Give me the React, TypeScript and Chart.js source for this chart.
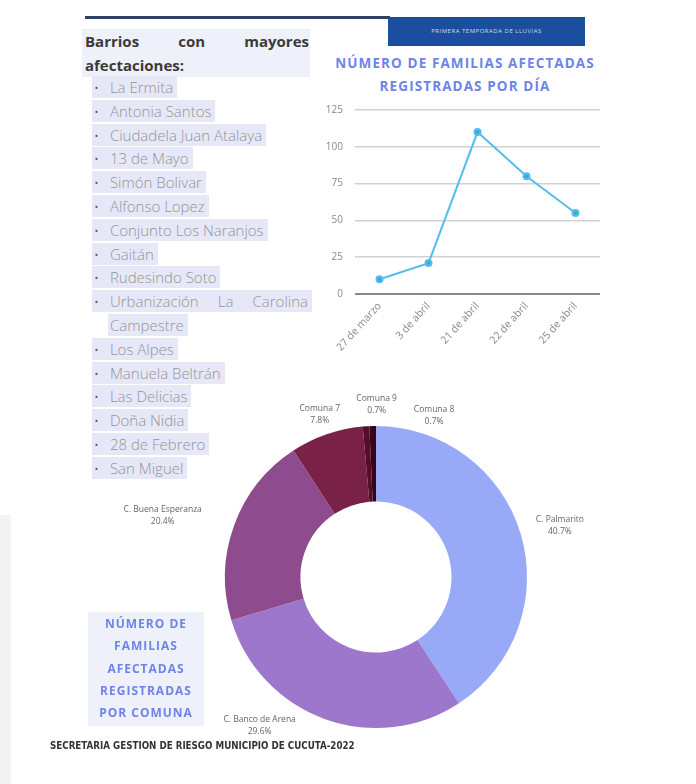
import React, { useEffect, useRef } from "react";
import { Chart, registerables } from "chart.js";

Chart.register(...registerables);

// ---- data ----
const barrios = [
  "La Ermita",
  "Antonia Santos",
  "Ciudadela Juan Atalaya",
  "13 de Mayo",
  "Simón Bolivar",
  "Alfonso Lopez",
  "Conjunto Los Naranjos",
  "Gaitán",
  "Rudesindo Soto",
  "Urbanización La Carolina|Campestre",
  "Los Alpes",
  "Manuela Beltrán",
  "Las Delicias",
  "Doña Nidia",
  "28 de Febrero",
  "San Miguel",
];

const dias = ["27 de marzo", "3 de abril", "21 de abril", "22 de abril", "25 de abril"];
const familiasPorDia = [10, 21, 110, 80, 55];
const yTicks = [0, 25, 50, 75, 100, 125];

const comunas = [
  "C. Palmarito",
  "C. Banco de Arena",
  "C. Buena Esperanza",
  "Comuna 7",
  "Comuna 9",
  "Comuna 8",
];
const porcentajeComuna = [40.7, 29.6, 20.4, 7.8, 0.7, 0.7];
const colorComuna = ["#98AAF7", "#9C77CB", "#8E4B8D", "#7A2147", "#560D2A", "#360516"];

// label nudges (degrees) and radial distance for the doughnut labels
const labelAngleNudge = [1, 18, -4, 0, 4, 21];
const labelRadius = [191, 189, 222, 172, 172, 172];

const BLUE_TITLE = "#6E84E6";
const HILITE = "#E6E8F8";

const doughnutLabels = {
  id: "doughnutLabels",
  afterDatasetsDraw(chart: any) {
    const ctx = chart.ctx;
    const meta = chart.getDatasetMeta(0);
    ctx.save();
    ctx.font = "8.5px 'Open Sans'";
    ctx.fillStyle = "#666";
    ctx.textAlign = "center";
    ctx.textBaseline = "middle";
    meta.data.forEach((arc: any, i: number) => {
      const p = arc.getProps(["x", "y", "startAngle", "endAngle"], true);
      const mid = (p.startAngle + p.endAngle) / 2 + (labelAngleNudge[i] * Math.PI) / 180;
      const r = labelRadius[i];
      const x = p.x + Math.cos(mid) * r;
      const y = p.y + Math.sin(mid) * r;
      ctx.fillText(comunas[i], x, y - 6);
      ctx.fillText(porcentajeComuna[i].toFixed(1) + "%", x, y + 6);
    });
    ctx.restore();
  },
};

function LineChart() {
  const ref = useRef<HTMLCanvasElement>(null);
  useEffect(() => {
    const chart = new Chart(ref.current!, {
      type: "line",
      data: {
        labels: dias,
        datasets: [
          {
            data: familiasPorDia,
            borderColor: "#55BDEB",
            backgroundColor: "#3AA9DA",
            borderWidth: 2,
            pointRadius: 3,
            pointBorderColor: "#55BDEB",
            pointBackgroundColor: "#3AA9DA",
            tension: 0,
          },
        ],
      },
      options: {
        animation: false,
        responsive: false,
        layout: { padding: { top: 11, right: 8, left: 0, bottom: 0 } },
        plugins: { legend: { display: false }, tooltip: { enabled: false } },
        scales: {
          x: {
            offset: true,
            grid: { display: false, drawTicks: false },
            border: { display: false },
            ticks: {
              color: "#888",
              font: { family: "'Open Sans'", size: 10.5 },
              minRotation: 48,
              maxRotation: 48,
              padding: 6,
            },
            afterFit: (s: any) => {
              s.height = 70;
            },
          },
          y: {
            min: 0,
            max: 125,
            afterBuildTicks: (s: any) => {
              s.ticks = yTicks.map((v) => ({ value: v }));
            },
            grid: {
              color: (c: any) => (c.tick && c.tick.value === 0 ? "#8a8a8a" : "#d2d2d2"),
              lineWidth: (c: any) => (c.tick && c.tick.value === 0 ? 2 : 1.5),
              drawTicks: false,
            },
            border: { display: false },
            ticks: {
              color: "#888",
              font: { family: "'Open Sans'", size: 10 },
              padding: 12,
            },
            afterFit: (s: any) => {
              s.width = 37;
            },
          },
        },
      },
    });
    return () => chart.destroy();
  }, []);
  return (
    <canvas
      ref={ref}
      width={290}
      height={272}
      style={{ position: "absolute", left: 318, top: 92, width: 290, height: 272 }}
    />
  );
}

function DoughnutChart() {
  const ref = useRef<HTMLCanvasElement>(null);
  useEffect(() => {
    const chart = new Chart(ref.current!, {
      type: "doughnut",
      data: {
        labels: comunas,
        datasets: [
          {
            data: porcentajeComuna,
            backgroundColor: colorComuna,
            borderWidth: 0,
          },
        ],
      },
      options: {
        animation: false,
        responsive: false,
        cutout: "50%",
        layout: { padding: { left: 125, right: 89, top: 49, bottom: 49 } },
        plugins: { legend: { display: false }, tooltip: { enabled: false } },
      },
      plugins: [doughnutLabels],
    });
    return () => chart.destroy();
  }, []);
  return (
    <canvas
      ref={ref}
      width={516}
      height={400}
      style={{ position: "absolute", left: 100, top: 377, width: 516, height: 400 }}
    />
  );
}

export default function App() {
  const lines: string[] = [];
  const isCont: boolean[] = [];
  barrios.forEach((b) => {
    b.split("|").forEach((part, k) => {
      lines.push(part);
      isCont.push(k > 0);
    });
  });
  const listTop = 76;
  const lineH = 23.8;
  const titleLines2 = ["NÚMERO DE", "FAMILIAS", "AFECTADAS", "REGISTRADAS", "POR COMUNA"];
  return (
    <div
      style={{
        position: "absolute",
        left: 0,
        top: 0,
        width: 696,
        height: 784,
        background: "#fff",
        overflow: "hidden",
        fontFamily: "'Open Sans', sans-serif",
      }}
    >
      {/* faint left strip */}
      <div style={{ position: "absolute", left: 0, top: 515, width: 11, height: 269, background: "#F3F3F5" }} />

      {/* top rule and banner */}
      <div style={{ position: "absolute", left: 85, top: 16, width: 305, height: 3, background: "#2E4160" }} />
      <div
        style={{
          position: "absolute",
          left: 388,
          top: 17,
          width: 197,
          height: 29,
          background: "#1C4E9F",
          color: "#cfd9f2",
          fontSize: 6,
          lineHeight: "29px",
          textAlign: "center",
          letterSpacing: 0.5,
        }}
      >
        PRIMERA TEMPORADA DE LLUVIAS
      </div>

      {/* heading */}
      <div
        style={{
          position: "absolute",
          left: 82,
          top: 29,
          width: 228,
          height: 48,
          background: "#EEF0FA",
        }}
      />
      <div
        style={{
          position: "absolute",
          left: 85,
          top: 29,
          width: 224,
          fontWeight: 700,
          fontSize: 15,
          lineHeight: "24px",
          color: "#3a3a3a",
          textAlign: "justify",
          textAlignLast: "left",
        }}
      >
        Barrios con mayores afectaciones:
      </div>

      {/* list */}
      {lines.map((t, i) => {
        const just = t.startsWith("Urbanización");
        return (
          <div
            key={i}
            style={{
              position: "absolute",
              left: isCont[i] ? 108 : 92,
              top: listTop + i * lineH,
              height: 22,
              lineHeight: "22px",
              fontSize: 15,
              fontWeight: 300,
              color: "#949494",
              background: HILITE,
              paddingRight: 4,
              paddingLeft: 2,
              whiteSpace: "nowrap",
              width: just ? 214 : undefined,
              textAlign: just ? "justify" : undefined,
              textAlignLast: just ? "justify" : undefined,
            }}
          >
            {!isCont[i] && <span style={{ color: "#555", marginRight: 11, fontSize: 13 }}>•</span>}
            {t}
          </div>
        );
      })}

      {/* line chart title */}
      <div
        style={{
          position: "absolute",
          left: 318,
          top: 52,
          width: 294,
          textAlign: "center",
          fontWeight: 700,
          fontSize: 13.5,
          lineHeight: "23px",
          letterSpacing: 1.1,
          color: BLUE_TITLE,
        }}
      >
        NÚMERO DE FAMILIAS AFECTADAS
        <br />
        REGISTRADAS POR DÍA
      </div>

      <LineChart />
      <DoughnutChart />

      {/* doughnut title */}
      <div style={{ position: "absolute", left: 88, top: 612, width: 116, height: 114, background: "#EEF0FA" }} />
      <div
        style={{
          position: "absolute",
          left: 86,
          top: 613,
          width: 120,
          textAlign: "center",
          fontWeight: 700,
          fontSize: 12,
          lineHeight: "22.3px",
          letterSpacing: 1,
          color: BLUE_TITLE,
        }}
      >
        {titleLines2.map((t, i) => (
          <div key={i}>{t}</div>
        ))}
      </div>

      {/* footer */}
      <div
        style={{
          position: "absolute",
          left: 50,
          top: 740,
          fontSize: 10,
          fontWeight: 700,
          color: "#333",
          fontFamily: "'DejaVu Sans Condensed', 'DejaVu Sans', sans-serif",
          whiteSpace: "nowrap",
          transform: "scaleX(0.97)",
          transformOrigin: "left top",
        }}
      >
        SECRETARIA GESTION DE RIESGO MUNICIPIO DE CUCUTA-2022
      </div>
    </div>
  );
}
